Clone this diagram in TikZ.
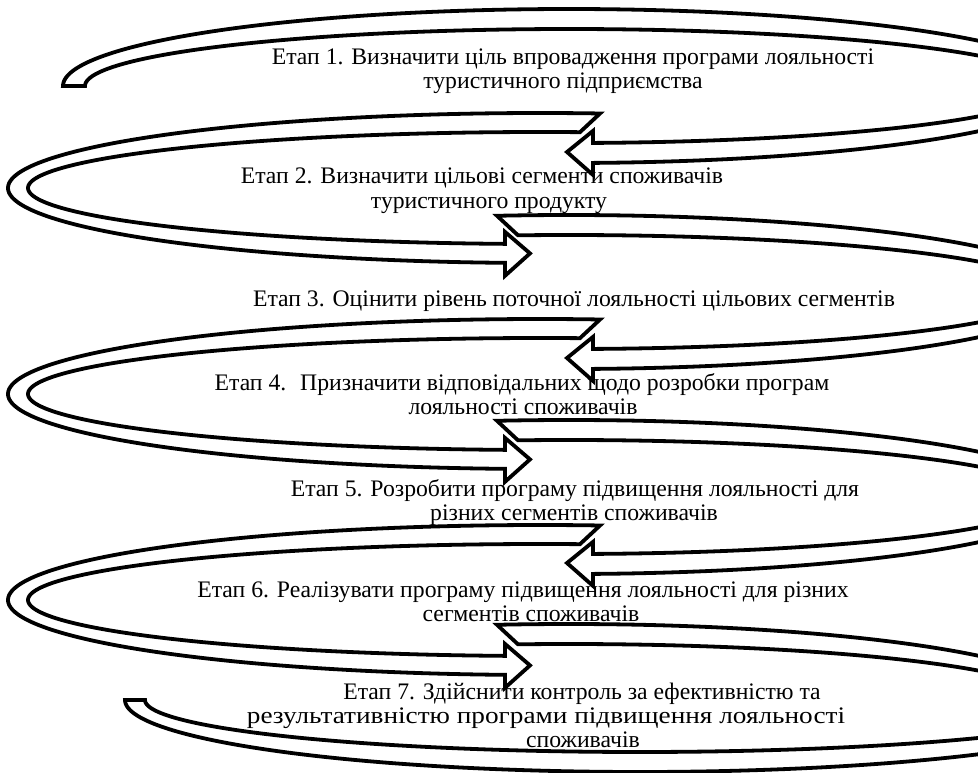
\documentclass[tikz,border=0pt]{standalone}
\usepackage{fontspec}
\setmainfont{Liberation Serif}

\tikzset{
  band/.style={draw=black, line width=3.8pt, line join=miter},
  stagetext/.style={anchor=base, inner sep=0pt, font=\fontsize{23.7}{26}\selectfont},
  widetext/.style={stagetext, font=\fontsize{23.7}{26}\selectfont\addfontfeature{FakeStretch=1.15}},
}

% Curved band bending round on the right: tail on the top side, head pointing left.
% #1 = centre y, #2 = outer start angle, #3 = inner start angle
\newcommand\RightLoopArrow[3]{%
  \draw[band]
    plot[domain=#2:87.28, samples=220] ({569+506*cos(\x)},{#1+77*sin(\x)})
    -- (593,{#1+76.9+12}) -- (567,{#1+66}) -- (593,{#1+56.9-12})
    -- plot[domain=87.16:#3, samples=220] ({569+484*cos(\x)},{#1+57*sin(\x)})
    -- cycle;
}

% Curved band bending round on the left: tail on the top side, head pointing right.
% #1 = centre y
\newcommand\LeftLoopArrow[1]{%
  \draw[band]
    plot[domain=-83.52:-266.23, samples=220] ({540+532*cos(\x)},{#1+75*sin(\x)})
    -- (505,{#1+74.8+13}) -- (530,{#1+65.4}) -- (505,{#1+55.9-12})
    -- plot[domain=-266.08:-85.52, samples=220] ({540+512*cos(\x)},{#1+56*sin(\x)})
    -- cycle;
}

\begin{document}
\begin{tikzpicture}[x=1pt, y=-1pt]
  \useasboundingbox (0,0) rectangle (978,773);
  \fill[white] (0,0) rectangle (978,773);
  \clip (0,0) rectangle (978,773);

  % stage 1 band: flat tail on the far left
  \RightLoopArrow{86}{-180}{-180}
  % stages 2..6
  \LeftLoopArrow{188}
  \RightLoopArrow{292}{-98.18}{-96.05}
  \LeftLoopArrow{394}
  \RightLoopArrow{497}{-98.18}{-96.05}
  \LeftLoopArrow{600}
  % last band: goes round on the right and ends flat on the lower left
  \draw[band]
    plot[domain=-98.18:0, samples=160] ({569+506*cos(\x)},{701+77*sin(\x)})
    -- plot[domain=0:180, samples=220] ({640+515*cos(\x)},{700+72*sin(\x)})
    -- plot[domain=180:0, samples=220] ({640+495*cos(\x)},{700+52*sin(\x)})
    -- plot[domain=0:-96.05, samples=160] ({569+484*cos(\x)},{701+57*sin(\x)})
    -- cycle;

  % stage texts
  \node[stagetext] (t1a) at (573,65)  {Етап 1. Визначити ціль впровадження програми лояльності};
  \node[stagetext] (t1b) at (563,89)  {туристичного підприємства};
  \node[stagetext] (t2a) at (482,184) {Етап 2. Визначити цільові сегменти споживачів};
  \node[stagetext] (t2b) at (489,208) {туристичного продукту};
  \node[stagetext] (t3)  at (574,306) {Етап 3. Оцінити рівень поточної лояльності цільових сегментів};
  \node[stagetext] (t4a) at (522,390) {Етап 4.~ Призначити відповідальних щодо розробки програм};
  \node[stagetext] (t4b) at (523,414) {лояльності споживачів};
  \node[stagetext] (t5a) at (575,496) {Етап 5. Розробити програму підвищення лояльності для};
  \node[stagetext] (t5b) at (574,520) {різних сегментів споживачів};
  \node[stagetext] (t6a) at (523,597) {Етап 6. Реалізувати програму підвищення лояльності для різних};
  \node[stagetext] (t6b) at (531,621) {сегментів споживачів};
  \node[stagetext] (t7a) at (582,699) {Етап 7. Здійснити контроль за ефективністю та};
  \node[widetext]  (t7b) at (546,723) {результативністю програми підвищення лояльності};
  \node[stagetext] (t7c) at (583,747) {споживачів};
\end{tikzpicture}
\end{document}
